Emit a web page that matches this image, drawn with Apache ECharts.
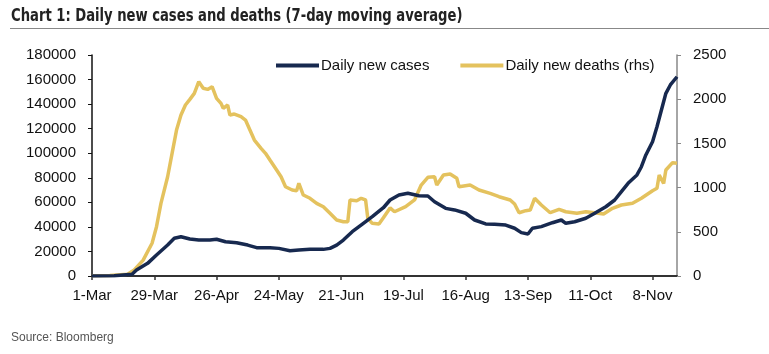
<!DOCTYPE html>
<html lang="en">
<head>
    <meta charset="UTF-8">
    <title>Daily new cases and deaths</title>
    <script src="https://cdnjs.cloudflare.com/ajax/libs/echarts/6.0.0/echarts.min.js"></script>
    <style>
        html, body { margin: 0; padding: 0; background: #fff; }
        #main { width: 769px; height: 354px; }
    </style>
</head>
<body>
    <div id="main"></div>
    <script>
        // x labels, one every 28 days starting 1-Mar (day 0)
        const tickLabels = ['1-Mar', '29-Mar', '26-Apr', '24-May', '21-Jun', '19-Jul', '16-Aug', '13-Sep', '11-Oct', '8-Nov'];

        // daily new cases (lhs), day number since 1-Mar
        const caseDays = [0, 10, 18, 20, 25, 29, 34, 37, 40, 44, 48, 53, 56, 60, 65, 70, 74, 80, 84, 89, 93, 98, 104, 107, 110, 113, 117, 122, 126, 131, 134, 138, 142, 147, 151, 154, 159, 163, 168, 172, 177, 181, 186, 190, 193, 196, 198, 202, 207, 211, 213, 217, 222, 226, 231, 235, 238, 241, 245, 247, 249, 252, 254, 256, 258, 260, 263];
        const caseValues = [0, 200, 1500, 4900, 10300, 17100, 25200, 30700, 32000, 30100, 29300, 29300, 29900, 27900, 27100, 25200, 23100, 23100, 22500, 20600, 21200, 21700, 21700, 22500, 25200, 29300, 36100, 42900, 48300, 55600, 61900, 66000, 67400, 65400, 65200, 60500, 55100, 53800, 51100, 45600, 42400, 42100, 41500, 38900, 35300, 34200, 38900, 40200, 43400, 45600, 42900, 44200, 47000, 51100, 56400, 61900, 68700, 75500, 82300, 89000, 98600, 109400, 121600, 135200, 148800, 155600, 162300];

        // daily new deaths (rhs)
        const deathDays = [0, 8, 16, 19, 23, 27, 29, 31, 34, 36, 38, 40, 42, 44, 46, 48, 50, 52, 54, 56, 58, 59, 61, 62, 64, 67, 69, 71, 73, 76, 78, 80, 83, 85, 87, 90, 92, 93, 95, 98, 101, 104, 107, 110, 113, 115, 116, 119, 121, 123, 124, 126, 129, 131, 134, 136, 141, 145, 148, 151, 154, 155, 158, 161, 164, 165, 170, 174, 179, 183, 188, 190, 192, 195, 197, 199, 202, 206, 210, 213, 218, 222, 226, 230, 234, 238, 243, 247, 252, 254, 255, 257, 258, 261, 263];
        const deathValues = [2, 5, 20, 68, 180, 370, 558, 822, 1123, 1388, 1651, 1821, 1934, 1998, 2066, 2198, 2123, 2111, 2141, 2010, 1953, 1897, 1934, 1821, 1832, 1802, 1764, 1651, 1538, 1444, 1388, 1312, 1199, 1123, 1010, 973, 965, 1048, 916, 879, 822, 784, 709, 633, 614, 614, 860, 852, 879, 860, 652, 596, 588, 660, 770, 727, 784, 860, 1029, 1116, 1123, 1029, 1142, 1154, 1105, 1010, 1029, 973, 935, 897, 860, 814, 716, 739, 746, 879, 803, 716, 754, 727, 709, 727, 716, 701, 766, 803, 822, 879, 965, 992, 1142, 1048, 1199, 1282, 1275];

        const chart = echarts.init(document.getElementById('main'));
        const axisFont = 'Liberation Sans, Arial, sans-serif';
        const narrowFont = "'Liberation Sans Narrow', 'DejaVu Sans Condensed', sans-serif";

        const option = {
            animation: false,
            graphic: [
                {
                    type: 'text', x: 11, y: 8, scaleX: 0.86,
                    style: {
                        text: 'Chart 1: Daily new cases and deaths (7-day moving average)',
                        font: 'bold 17px ' + narrowFont, fill: '#222'
                    }
                },
                {
                    type: 'line',
                    shape: { x1: 10, y1: 28.5, x2: 769, y2: 28.5 },
                    style: { stroke: '#888', lineWidth: 1 }
                },
                {
                    type: 'text', left: 11, top: 332,
                    style: { text: 'Source: Bloomberg', font: '12px ' + axisFont, fill: '#555' }
                }
            ],
            legend: {
                left: 271, top: 53,
                icon: 'rect', itemWidth: 43, itemHeight: 4, itemGap: 31,
                textStyle: { fontSize: 15, fontFamily: axisFont, color: '#111', padding: [0, 0, 0, -3] },
                data: ['Daily new cases', 'Daily new deaths (rhs)']
            },
            grid: { left: 92, right: 92, top: 55, bottom: 78 },
            xAxis: {
                type: 'value', min: 0, max: 263, interval: 28,
                axisLine: { lineStyle: { color: '#333', width: 2 } },
                axisTick: { length: 4, lineStyle: { color: '#333', width: 1.5 } },
                splitLine: { show: false },
                axisLabel: {
                    margin: 12, fontSize: 15, fontFamily: axisFont, color: '#111', showMaxLabel: false,
                    formatter: v => (v % 28 === 0 ? tickLabels[v / 28] : '')
                }
            },
            yAxis: [
                {
                    type: 'value', min: 0, max: 180000, interval: 20000,
                    axisLine: { show: true, lineStyle: { color: '#111', width: 1.5 } },
                    axisTick: { show: true, length: 4, lineStyle: { color: '#111' } },
                    splitLine: { show: false },
                    axisLabel: { margin: 16, fontSize: 15, fontFamily: axisFont, color: '#111', formatter: v => String(v) }
                },
                {
                    type: 'value', min: 0, max: 2500, interval: 500, position: 'right',
                    axisLine: { show: true, lineStyle: { color: '#888', width: 1.5 } },
                    axisTick: { show: true, length: 4, lineStyle: { color: '#888' } },
                    splitLine: { show: false },
                    axisLabel: { margin: 16, fontSize: 15, fontFamily: axisFont, color: '#111', formatter: v => String(v) }
                }
            ],
            series: [
                {
                    name: 'Daily new deaths (rhs)', type: 'line', yAxisIndex: 1,
                    showSymbol: false, color: '#e4c25e',
                    lineStyle: { width: 3.5 },
                    data: deathDays.map((d, i) => [d, deathValues[i]])
                },
                {
                    name: 'Daily new cases', type: 'line', yAxisIndex: 0,
                    showSymbol: false, color: '#17294f',
                    lineStyle: { width: 3.5 },
                    data: caseDays.map((d, i) => [d, caseValues[i]])
                }
            ]
        };
        chart.setOption(option);
    </script>
</body>
</html>
